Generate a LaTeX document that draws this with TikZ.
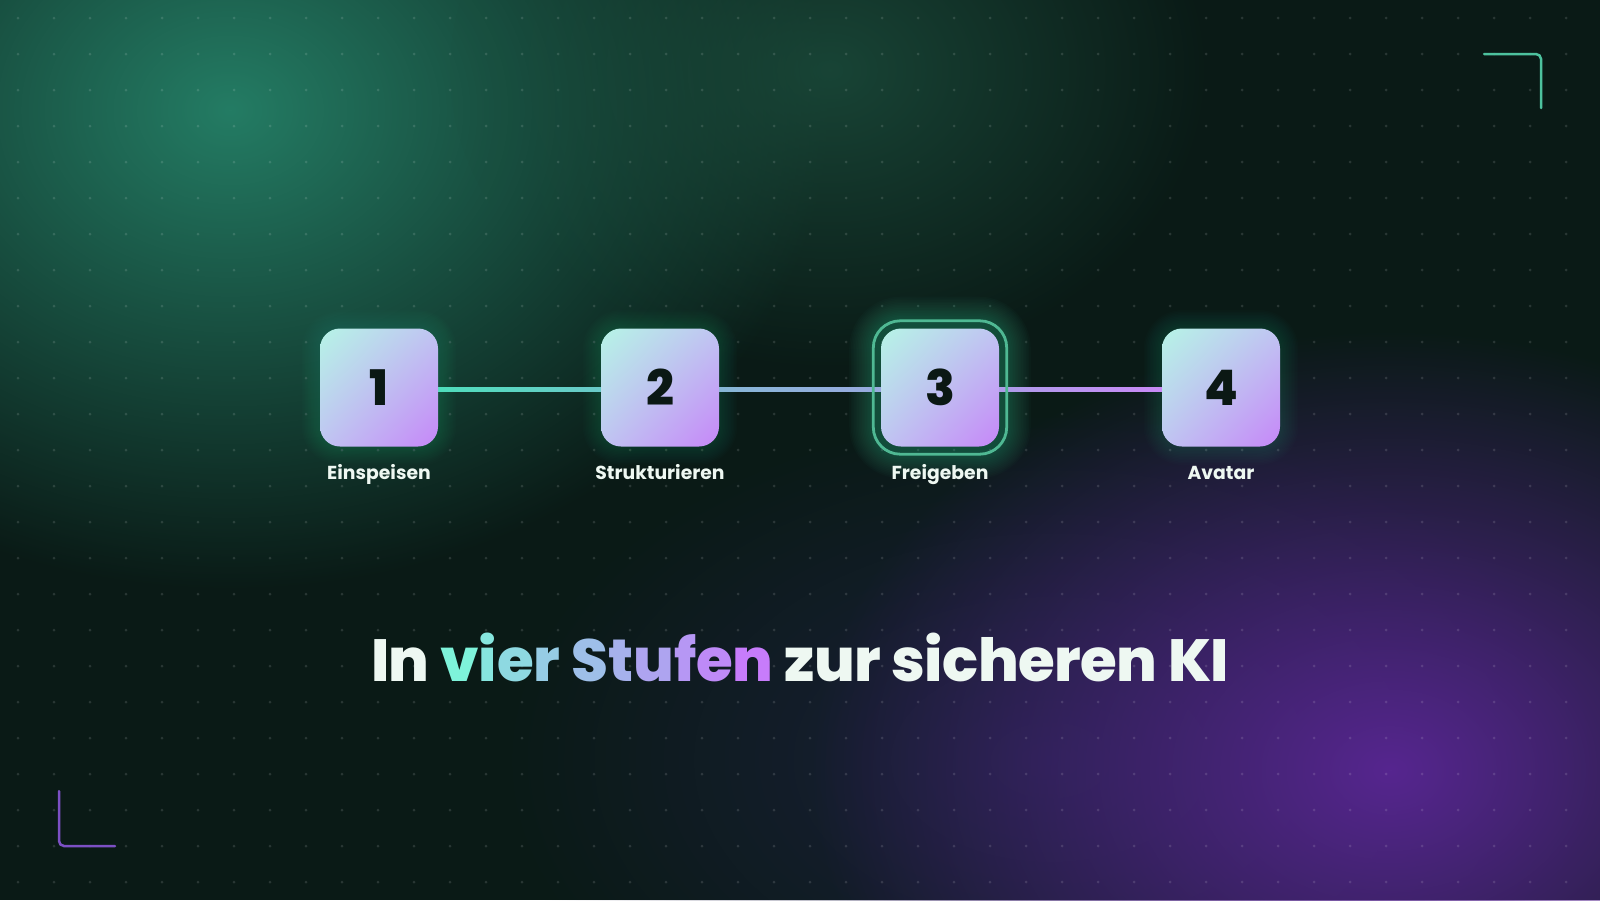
\documentclass[tikz,border=0pt]{standalone}
\usepackage{fontspec}
\setmainfont{Poppins}
\newfontfamily\titlefont{Poppins ExtraBold}[LetterSpace=-1.0]
\newfontfamily\numfont{Poppins ExtraBold}
\usetikzlibrary{fadings,calc,shadings}
\definecolor{bgbase}{HTML}{0A1A16}
\definecolor{gglow}{HTML}{247C64}
\definecolor{gglow2}{HTML}{1C4F3E}
\definecolor{pglow}{HTML}{56268F}
\definecolor{nglow}{HTML}{22224A}
\definecolor{boxA}{HTML}{B6F4E6}
\definecolor{boxM}{HTML}{C0C4F2}
\definecolor{boxB}{HTML}{C686F8}
\definecolor{numc}{HTML}{0B1814}
\definecolor{lblc}{HTML}{EEF8F2}
\definecolor{lineA}{HTML}{4FDDBC}
\definecolor{lineB}{HTML}{C88AF6}
\definecolor{boxglow}{HTML}{3CCB9E}
\definecolor{ringc}{HTML}{4FB893}
\definecolor{tA}{HTML}{7EF3DA}
\definecolor{tB}{HTML}{C77CFB}
\definecolor{brk1}{HTML}{4DC29E}
\definecolor{brk2}{HTML}{7C50C4}
\tikzfading[name=glowfade, inner color=transparent!0, outer color=transparent!100]
\pgfdeclarelayer{bg}
\pgfsetlayers{bg,main}
\tikzset{
  stepbox/.style={minimum width=118pt, minimum height=118pt, inner sep=0pt,
    rounded corners=20pt, upper left=boxA, upper right=boxM, lower left=boxM, lower right=boxB,
    text=numc, text height=36pt, text depth=0pt, font=\numfont\fontsize{49}{49}\selectfont},
  lbl/.style={text=lblc, font=\fontsize{18.8}{19}\selectfont\bfseries, inner sep=0pt, anchor=base},
  ttl/.style={text=lblc, font=\titlefont\fontsize{59.5}{60}\selectfont, inner sep=0pt, anchor=base},
  brk/.style={line width=2.5pt, rounded corners=5pt, line cap=round}
}
\begin{document}
\begin{tikzpicture}[x=1pt,y=-1pt]
\useasboundingbox (0,0) rectangle (1600,900);
% nodes
\node[stepbox] (b1) at (379,387.5) {1};
\node[stepbox] (b2) at (660,387.5) {2};
\node[stepbox] (b3) at (940,387.5) {3};
\node[stepbox] (b4) at (1221,387.5) {4};
\node[lbl] (l1) at (379,479) {Einspeisen};
\node[lbl] (l2) at (660,479) {Strukturieren};
\node[lbl] (l3) at (940,479) {Freigeben};
\node[lbl] (l4) at (1221,479) {Avatar};
\node[ttl] (t) at (800,681.5) {In \textcolor{tA}{v}\textcolor{tB!11!tA}{i}\textcolor{tB!22!tA}{e}\textcolor{tB!33!tA}{r} \textcolor{tB!44!tA}{S}\textcolor{tB!55!tA}{t}\textcolor{tB!66!tA}{u}\textcolor{tB!77!tA}{f}\textcolor{tB!88!tA}{e}\textcolor{tB}{n} zur sicheren KI};
\draw[draw=ringc, line width=2.8pt, rounded corners=27pt] ($(b3.north west)+(-7.5pt,7.5pt)$) rectangle ($(b3.south east)+(7.5pt,-7.5pt)$);
\begin{pgfonlayer}{bg}
\fill[bgbase] (0,0) rectangle (1600,900);
\fill[gglow, path fading=glowfade] (230,110) ellipse [x radius=600, y radius=480];
\fill[gglow2, path fading=glowfade, opacity=0.8] (830,70) ellipse [x radius=380, y radius=300];
\fill[nglow, path fading=glowfade, opacity=0.7] (1050,760) ellipse [x radius=550, y radius=350];
\fill[pglow, path fading=glowfade] (1390,770) ellipse [x radius=580, y radius=440];
\fill[white, opacity=0.13] \foreach \x in {18,54,...,1600} {\foreach \y in {18,54,...,900} {(\x,\y) circle (1.5pt)}};
\foreach \b in {b1,b2,b4}{
  \foreach \i in {1,...,12}{
    \fill[boxglow, opacity=0.017, rounded corners={20pt+\i*1.5pt}] ($(\b.north west)+(-\i*1.5pt,\i*1.5pt)$) rectangle ($(\b.south east)+(\i*1.5pt,-\i*1.5pt)$);
  }
}
\foreach \i in {1,...,16}{
  \fill[boxglow, opacity=0.022, rounded corners={26pt+\i*1.6pt}] ($(b3.north west)+(-6pt-\i*1.6pt,6pt+\i*1.6pt)$) rectangle ($(b3.south east)+(6pt+\i*1.6pt,-6pt-\i*1.6pt)$);
}
\fill[left color=lineA, right color=lineB!22.5!lineA] ($(b1.east)+(0,0pt)$) rectangle ($(b2.west)+(0,-4pt)$);
\fill[left color=lineB!46!lineA, right color=lineB!61!lineA] ($(b2.east)+(0,0pt)$) rectangle ($(b3.west)+(0,-4pt)$);
\fill[left color=lineB!78!lineA, right color=lineB] ($(b3.east)+(0,0pt)$) rectangle ($(b4.west)+(0,-4pt)$);
\end{pgfonlayer}
\coordinate (tr1) at (1484,54); \coordinate (tr2) at (1541,54); \coordinate (tr3) at (1541,108);
\draw[brk, draw=brk1] (tr1) -- (tr2) -- (tr3);
\coordinate (bl1) at (59,791); \coordinate (bl2) at (59,846); \coordinate (bl3) at (115,846);
\draw[brk, draw=brk2] (bl1) -- (bl2) -- (bl3);
\end{tikzpicture}
\end{document}
